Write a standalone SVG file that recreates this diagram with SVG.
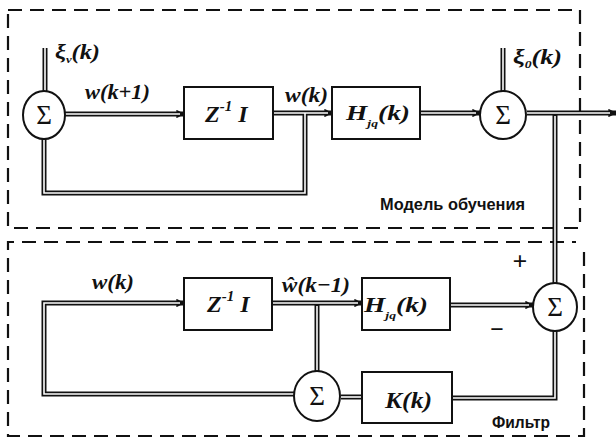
<svg xmlns="http://www.w3.org/2000/svg" width="616" height="441" viewBox="0 0 616 441">
<defs>
<style>
.frame{fill:none;stroke:#111;stroke-width:2.2;stroke-dasharray:14 8}
.box{fill:#fff;stroke:#111;stroke-width:2}
.sum{fill:#fff;stroke:#111;stroke-width:2}
.wo{fill:none;stroke:#111;stroke-width:5;stroke-linejoin:miter}
.wi{fill:none;stroke:#fff;stroke-width:1.6;stroke-linejoin:miter}
.m{font-family:"Liberation Serif","Times New Roman",serif;font-style:italic;font-weight:bold;fill:#111}
.u{font-family:"Liberation Serif","Times New Roman",serif;font-weight:bold;fill:#111}
.sg{font-family:"Liberation Serif","Times New Roman",serif;font-size:27px;fill:#111;text-anchor:middle}
.cap{font-family:"Liberation Sans",Arial,sans-serif;font-weight:bold;font-size:16px;fill:#111}
</style>
<marker id="ah" viewBox="0 0 10 10" refX="9" refY="5" markerWidth="1.7" markerHeight="1.7" orient="auto" markerUnits="strokeWidth">
<path d="M0,0 L10,5 L0,10 z" fill="#111"/>
</marker>
</defs>
<rect width="616" height="441" fill="#fff"/>

<g id="frames">
<rect class="frame" x="8" y="10" width="572" height="218"/>
<path class="frame" d="M584,252 V436 H8 V242 H576"/>
</g>

<g id="connectors">
<path class="wo" d="M45,48 V91"/>
<path class="wo" d="M65,114 H184" marker-end="url(#ah)"/>
<path class="wo" d="M273,113 H332" marker-end="url(#ah)"/>
<path class="wo" d="M305,113 V193 H44 V139"/>
<path class="wo" d="M420,113 H480" marker-end="url(#ah)"/>
<path class="wo" d="M503,48 V91"/>
<path class="wo" d="M527,113 H616" marker-end="url(#ah)"/>
<path class="wo" d="M555,113 V283"/>
<path class="wo" d="M294,394 H44 V303 H184" marker-end="url(#ah)"/>
<path class="wo" d="M272,303 H362" marker-end="url(#ah)"/>
<path class="wo" d="M317,303 V371"/>
<path class="wo" d="M450,305 H533" marker-end="url(#ah)"/>
<path class="wo" d="M555,331 V398 H452"/>
<path class="wo" d="M341,397 H362"/>
<path class="wi" d="M45,48 V91"/>
<path class="wi" d="M65,114 H180"/>
<path class="wi" d="M273,113 H328"/>
<path class="wi" d="M305,113 V193 H44 V139"/>
<path class="wi" d="M420,113 H476"/>
<path class="wi" d="M503,48 V91"/>
<path class="wi" d="M527,113 H610"/>
<path class="wi" d="M555,116 V283"/>
<path class="wi" d="M294,394 H44 V303 H180"/>
<path class="wi" d="M272,303 H358"/>
<path class="wi" d="M317,306 V371"/>
<path class="wi" d="M450,305 H529"/>
<path class="wi" d="M555,331 V398 H452"/>
<path class="wi" d="M341,397 H362"/>
</g>

<g id="sum1">
<ellipse class="sum" cx="44" cy="115" rx="21" ry="24"/>
<text class="sg" x="44" y="124">Σ</text>
</g>
<g id="z1">
<rect class="box" x="184" y="87" width="89" height="52"/>
<text class="m" x="205" y="122" font-size="24">Z<tspan font-size="15" dy="-11">-1</tspan><tspan dy="11"> I</tspan></text>
</g>
<g id="h1">
<rect class="box" x="332" y="87" width="88" height="52"/>
<text class="m" x="346" y="120" font-size="22" textLength="64" lengthAdjust="spacingAndGlyphs">H<tspan font-size="11" dy="7">jq</tspan><tspan dy="-7">(k)</tspan></text>
</g>
<g id="sum2">
<ellipse class="sum" cx="503" cy="115" rx="23" ry="24"/>
<text class="sg" x="503" y="124">Σ</text>
</g>
<g id="sum3">
<ellipse class="sum" cx="555" cy="307" rx="22" ry="24"/>
<text class="sg" x="555" y="316">Σ</text>
</g>
<g id="z2">
<rect class="box" x="184" y="278" width="88" height="52"/>
<text class="m" x="207" y="312" font-size="24">Z<tspan font-size="15" dy="-11">-1</tspan><tspan dy="11"> I</tspan></text>
</g>
<g id="h2">
<rect class="box" x="362" y="278" width="88" height="52"/>
<text class="m" x="364" y="312" font-size="22" textLength="64" lengthAdjust="spacingAndGlyphs">H<tspan font-size="11" dy="7">jq</tspan><tspan dy="-7">(k)</tspan></text>
</g>
<g id="sum4">
<ellipse class="sum" cx="317" cy="396" rx="23" ry="25"/>
<text class="sg" x="317" y="405">Σ</text>
</g>
<g id="k">
<rect class="box" x="362" y="372" width="90" height="51"/>
<text class="m" x="385" y="408" font-size="23" textLength="47" lengthAdjust="spacingAndGlyphs">K(k)</text>
</g>

<g id="labels">
<text class="m" x="55" y="59" font-size="21" textLength="45" lengthAdjust="spacingAndGlyphs">ξ<tspan font-size="11" dy="4">v</tspan><tspan dy="-4">(k)</tspan></text>
<text class="m" x="513" y="64" font-size="21" textLength="49" lengthAdjust="spacingAndGlyphs">ξ<tspan font-size="11" dy="4">0</tspan><tspan dy="-4">(k)</tspan></text>
<text class="m" x="85" y="99" font-size="22" textLength="65" lengthAdjust="spacingAndGlyphs">w(k+1)</text>
<text class="m" x="285" y="102" font-size="22" textLength="43" lengthAdjust="spacingAndGlyphs">w(k)</text>
<text class="m" x="92" y="289" font-size="22" textLength="42" lengthAdjust="spacingAndGlyphs">w(k)</text>
<text class="m" x="282" y="292" font-size="22" textLength="68" lengthAdjust="spacingAndGlyphs">ŵ(k−1)</text>
<text class="u" x="520" y="270" font-size="26" text-anchor="middle">+</text>
<text class="u" x="497" y="337" font-size="24" text-anchor="middle">−</text>
<text class="cap" x="380" y="210" textLength="145" lengthAdjust="spacingAndGlyphs">Модель обучения</text>
<text class="cap" x="492" y="428" textLength="58" lengthAdjust="spacingAndGlyphs">Фильтр</text>
</g>
</svg>
